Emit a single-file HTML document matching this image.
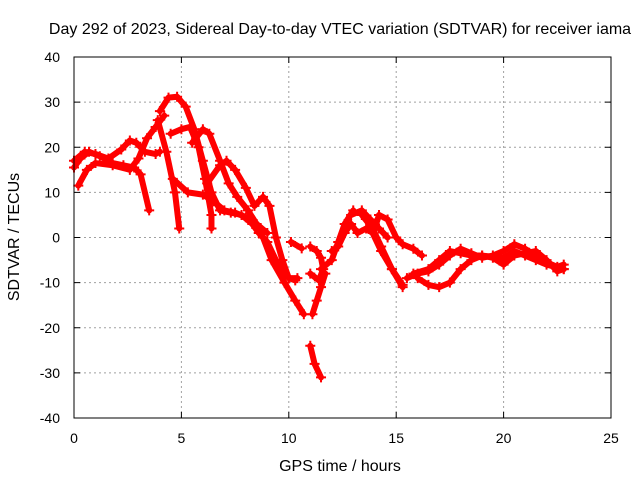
<!DOCTYPE html>
<html><head><meta charset="utf-8"><style>
html,body{margin:0;padding:0;background:#fff;}
svg{display:block;font-family:"Liberation Sans",sans-serif;}
</style></head><body>
<svg id="chart" width="640" height="480" viewBox="0 0 640 480">
<rect width="640" height="480" fill="#fff"/>
<text x="340" y="34" font-size="16" text-anchor="middle">Day 292 of 2023, Sidereal Day-to-day VTEC variation (SDTVAR) for receiver iama</text>
<text x="340" y="471" font-size="16" text-anchor="middle">GPS time / hours</text>
<text x="19" y="237" font-size="16" text-anchor="middle" transform="rotate(-90 19 237)">SDTVAR / TECUs</text>
<g id="grid"></g>
<g id="ticks"></g>
<g id="series"></g>
<rect x="74" y="57" width="537" height="361" fill="none" stroke="#000" stroke-width="1"/>
</svg>
<script>
const xTicks=[0,5,10,15,20,25];
const yTicks=[-40,-30,-20,-10,0,10,20,30,40];
const traceA=[[4.0,28],[4.4,31],[4.8,31.2],[5.2,29],[5.6,24],[6,17],[6.4,10],[6.8,6],[7.3,5.5],[7.8,5],[8.3,3],[8.6,1],[9,-1],[9.5,-6],[10,-9],[10.4,-9]];
const traceB=[[3.9,26],[4.3,19],[4.7,10],[4.9,2]];
const traceC=[[4.5,23],[5,24],[5.4,24.5],[5.8,20],[6.1,13],[6.4,5],[6.4,2]];
const traceD=[[4.6,13],[5.3,10],[6,9.5],[6.5,8],[7,6],[7.5,5.5],[8,4.5],[8.5,3],[9,1]];
const traceE=[[5.5,21],[6,24],[6.3,23],[6.8,17],[7.2,12],[7.6,9],[8.1,6],[8.5,3],[8.8,0],[9.2,-5],[9.8,-10],[10.3,-14],[10.7,-17]];
const traceF=[[6.2,12],[6.8,16],[7.1,17],[7.5,15],[8,11],[8.4,7],[8.8,9],[9.1,7],[9.4,0],[9.7,-5],[10,-9],[10.3,-9.5]];
const traceG=[[0,15.5],[0.3,17.5],[0.7,19],[1.2,18],[1.8,16.5],[2.3,16],[2.8,15.5],[3.1,14],[3.5,6]];
const traceH=[[0,17],[0.5,19],[1,18.5],[1.6,17.5],[2.2,19.5],[2.6,21.5],[2.9,21],[3.3,19],[3.8,18.5],[4,19]];
const traceI=[[0.2,11.5],[0.6,15],[1,16.5],[1.8,16],[2.6,15],[3,17.5],[3.4,22],[3.8,24.5],[4.2,27]];
const traceJ=[[10.1,-1],[10.6,-2.4]];
const traceK=[[11,-24],[11.2,-28],[11.5,-31]];
const traceL=[[11.1,-17],[11.3,-14],[11.5,-11],[11.7,-8]];
const traceM=[[11,-2],[11.3,-3],[11.5,-4.5],[11.6,-7],[11.4,-9.5],[11,-8]];
const traceN=[[11.5,-7],[12,-5],[12.3,-1],[12.6,3],[13,6]];
const traceO=[[12,-3],[12.3,-2],[12.6,1],[12.9,3],[13.2,1],[13.6,2],[13.9,1],[14.3,-3],[14.8,-7],[15.3,-10.5]];
const traceP=[[12.9,5],[13.4,6],[13.8,4],[14.2,2],[14.6,0]];
const traceQ=[[13.4,5],[13.9,2],[14.3,-2],[14.8,-7],[15.3,-11]];
const traceR=[[14,2],[14.2,5],[14.6,4],[15,0],[15.3,-1.5],[15.8,-2.5],[16.2,-4]];
const traceS=[[15.5,-9],[16,-8],[16.5,-7.5],[17,-6],[17.5,-4],[18,-2.5],[18.5,-3.5],[19,-4.5],[19.5,-4],[20,-3],[20.5,-1.5],[21,-2.5],[21.5,-4],[22,-5.5],[22.5,-6.5],[22.8,-6]];
const traceT=[[16,-9],[16.5,-10.5],[17,-11],[17.5,-10],[18,-7],[18.5,-5],[19,-4],[19.5,-4.5],[20,-6],[20.5,-4],[21,-3.5],[21.5,-3],[22,-5],[22.5,-7.5],[22.8,-7]];
const traceU=[[15.8,-8],[16.5,-7],[17,-5],[17.5,-3],[18,-3.5],[18.5,-4],[19,-4],[20,-4.5],[20.5,-3],[21,-4],[21.5,-5],[22,-6],[22.8,-7]];
const traces=[traceA,traceB,traceC,traceD,traceE,traceF,traceG,traceH,traceI,traceJ,traceK,traceL,traceM,traceN,traceO,traceP,traceQ,traceR,traceS,traceT,traceU];

const X0=74,X1=611,Y0=418,Y1=57;
function sx(v){return X0+(v-0)/(25-0)*(X1-X0);}
function sy(v){return Y0-(v+40)/80*(Y0-Y1);}
const NS='http://www.w3.org/2000/svg';
function mk(t,a,p){const e=document.createElementNS(NS,t);for(const k in a)e.setAttribute(k,a[k]);p.appendChild(e);return e;}
const grid=document.getElementById('grid'),ticks=document.getElementById('ticks'),series=document.getElementById('series');
xTicks.forEach(v=>{
  const x=sx(v);
  if(v>0&&v<25){const g=mk('line',{x1:x,x2:x,y1:Y0,y2:Y1,stroke:'#a0a0a0','stroke-dasharray':'2,3'},grid);
  
  }
  mk('line',{x1:x,x2:x,y1:Y0,y2:Y0-6,stroke:'#000'},ticks);
  mk('line',{x1:x,x2:x,y1:Y1,y2:Y1+6,stroke:'#000'},ticks);
  const t=mk('text',{x:x,y:443,'font-size':14,'text-anchor':'middle'},ticks);t.textContent=v;
  
  
});
yTicks.forEach(v=>{
  const y=sy(v);
  if(v>-40&&v<40){const g=mk('line',{x1:X0,x2:X1,y1:y,y2:y,stroke:'#a0a0a0','stroke-dasharray':'2,3'},grid);
  
  }
  mk('line',{x1:X0,x2:X0+6,y1:y,y2:y,stroke:'#000'},ticks);
  mk('line',{x1:X1,x2:X1-6,y1:y,y2:y,stroke:'#000'},ticks);
  const t=mk('text',{x:60,y:y+5,'font-size':14,'text-anchor':'end'},ticks);t.textContent=v;
  
  
});
traces.forEach(tr=>{
  const pts=tr.map(p=>sx(p[0])+','+sy(p[1])).join(' ');
  const pl=mk('polyline',{points:pts,fill:'none',stroke:'#ff0000','stroke-width':6,'stroke-linejoin':'round','stroke-linecap':'round'},series);
  
  
  tr.forEach(p=>{
    const x=sx(p[0]),y=sy(p[1]);
    const m=mk('path',{d:`M${x-5},${y}H${x+5}M${x},${y-5}V${y+5}`,stroke:'#ff0000','stroke-width':2},series);
    
    
  });
});
</script>
</body></html>
